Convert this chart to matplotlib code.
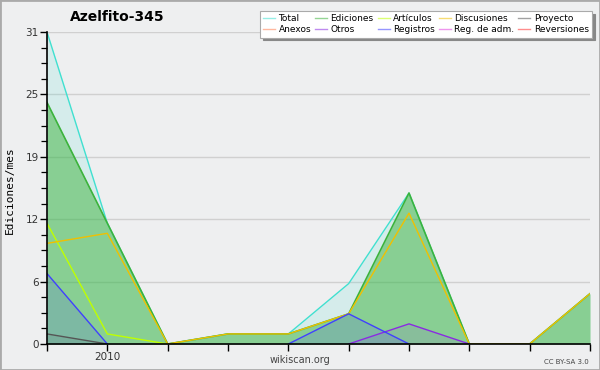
import numpy as np
import matplotlib
matplotlib.use("Agg")
from matplotlib import pyplot as plt
from matplotlib.lines import Line2D
from matplotlib.patches import Rectangle
from matplotlib.ticker import FixedLocator, MultipleLocator

# datos (10 meses, solo 2010 lleva etiqueta)
meses = np.arange(10)
etiquetas_x = ["", "2010", "", "", "", "", "", "", "", ""]
n = np.nan

total       = [31, 12, 0, 1, 1, 6, 15, 0, 0, 5]
ediciones   = [24, 12, 0, 1, 1, 3, 15, 0, 0, 5]
articulos   = [12, 1, 0, n, n, n, n, n, n, n]
discusiones = [10, 11, 0, 1, 1, 3, 13, 0, 0, 5]
proyecto    = [1, 0, n, n, n, n, n, n, n, n]
otros       = [n, n, n, n, n, 0, 2, 0, n, n]
registros   = [7, 0, n, n, 0, 3, 0, n, n, n]

nombres = ["Total", "Ediciones", "Artículos", "Discusiones", "Proyecto",
           "Anexos", "Otros", "Registros", "Reg. de adm.", "Reversiones"]
colores = ["#40e0d0", "#3cb33c", "#bfff00", "#f0c000", "#555555",
           "#ff7f50", "#8a2be2", "#4040ff", "#e040e0", "#ff3030"]

bg = "#eeeff0"
fig = plt.figure(figsize=(6, 3.7), dpi=100, facecolor=bg)
ax = fig.add_axes([47/600, 1-344/370, (590-47)/600, (344-32)/370])
ax.set_facecolor(bg)

# rellenos
ax.fill_between(meses, total, color=colores[0], alpha=0.14, lw=0)
ax.fill_between(meses, ediciones, color=colores[1], alpha=0.5, lw=0)
ax.fill_between(meses, registros, color=colores[7], alpha=0.15, lw=0)
ax.fill_between(meses, otros, color=colores[6], alpha=0.1, lw=0)
ax.fill_between(meses, proyecto, color=colores[4], alpha=0.1, lw=0)

# lineas
ax.plot(meses, total, color=colores[0], lw=1)
ax.plot(meses, ediciones, color=colores[1], lw=1.2)
ax.plot(meses, articulos, color=colores[2], lw=1)
ax.plot(meses, discusiones, color=colores[3], lw=1)
ax.plot(meses, proyecto, color=colores[4], lw=1)
ax.plot(meses, otros, color=colores[6], lw=1)
ax.plot(meses, registros, color=colores[7], lw=1)

ax.set_xlim(0, 9)
ax.set_ylim(0, 31)
ax.set_xticks(meses)
ax.set_xticklabels(etiquetas_x)
ymaj = [0, 6.2, 12.4, 18.6, 24.8, 31]
ax.yaxis.set_major_locator(FixedLocator(ymaj))
ax.set_yticklabels(["0", "6", "12", "19", "25", "31"])
ax.yaxis.set_minor_locator(MultipleLocator(1.55))
ax.tick_params(axis="both", which="major", length=5, width=1, labelsize=7.5,
               labelcolor="#333333", pad=1)
ax.tick_params(axis="y", which="minor", length=4, width=0.9)
ax.grid(axis="y", color="#d0d0d0", lw=1)
ax.set_axisbelow(True)
for s in ["top", "right"]:
    ax.spines[s].set_visible(False)
for s in ["left", "bottom"]:
    ax.spines[s].set_linewidth(1.2)
    ax.spines[s].set_zorder(5)

fig.text(117/600, 1-17/370, "Azelfito-345", ha="center", va="center",
         fontsize=10, fontweight="bold")
fig.text(10/600, 1-190/370, "Ediciones/mes", rotation=90, ha="center",
         va="center", fontsize=8, family="DejaVu Sans Mono")
fig.text(300/600, 1-360/370, "wikiscan.org", ha="center", va="center",
         fontsize=7, color="#444444")
fig.text(589/600, 1-362/370, "CC BY-SA 3.0", ha="right", va="center",
         fontsize=5, color="#444444")

# leyenda (orden por columnas)
orden = [0, 5, 1, 6, 2, 7, 3, 8, 4, 9]
handles = [Line2D([], [], color=colores[i], lw=1, alpha=0.55) for i in orden]
labels = [nombres[i] for i in orden]
leg = fig.legend(handles, labels, ncol=5, loc="upper right",
                 bbox_to_anchor=(592/600, 1-11/370), fontsize=6.5,
                 frameon=True, fancybox=False, edgecolor="#aaaaaa",
                 framealpha=1, handlelength=1.3, handletextpad=0.4,
                 columnspacing=0.45, labelspacing=0.25, borderpad=0.35,
                 borderaxespad=0,
                 shadow={"color": "#888888", "alpha": 1})
leg.get_frame().set_linewidth(0.8)

fig.patches.append(Rectangle((0, 0), 1, 1, transform=fig.transFigure,
                             fill=False, edgecolor="#aaaaaa", lw=2))
fig.savefig("out.png", dpi=100, facecolor=bg)
